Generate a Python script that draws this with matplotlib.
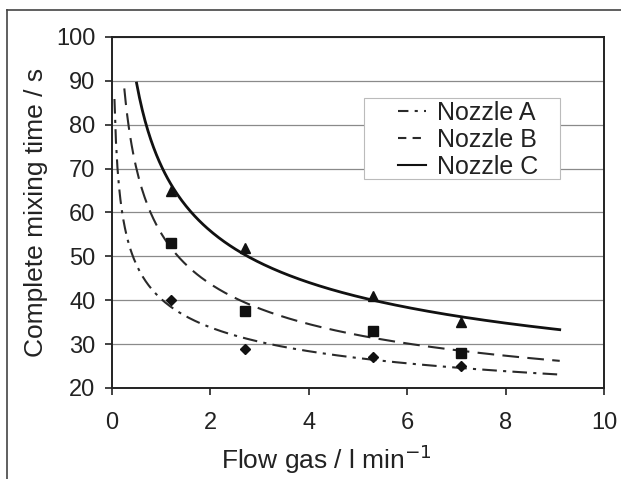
import numpy as np
import matplotlib.pyplot as plt
from matplotlib.lines import Line2D
from matplotlib.patches import Rectangle

plt.rcParams["font.family"] = ["Liberation Sans", "DejaVu Sans"]

# measured points (flow gas l/min, complete mixing time s)
flow = [1.2, 2.7, 5.3, 7.1]
time_a = [40, 29, 27, 25]
time_b = [53, 37.5, 33, 28]
time_c = [65, 52, 41, 35]

# extent of the power-law trendlines as drawn
x_start = {"A": 0.05, "B": 0.25, "C": 0.5}
x_end = 9.1

names = ["Nozzle A", "Nozzle B", "Nozzle C"]
x_ticks = [0, 2, 4, 6, 8, 10]
y_ticks = [20, 30, 40, 50, 60, 70, 80, 90, 100]

W, H = 621, 479


def power_fit(x, y):
    # excel-style power trendline y = a * x^b
    b, ln_a = np.polyfit(np.log(x), np.log(y), 1)
    return np.exp(ln_a), b


fig = plt.figure(figsize=(W / 100, H / 100), dpi=100)
ax = fig.add_axes([112 / W, 1 - 388 / H, 492 / W, 351 / H])

series = [
    ("A", time_a, "D", 5, (0, (7, 3, 1.5, 3)), 1.5, "#2a2a2a"),
    ("B", time_b, "s", 6.5, (0, (8, 4)), 1.5, "#2a2a2a"),
    ("C", time_c, "^", 6.5, "-", 2.0, "#111111"),
]

for key, ys, marker, msize, ls, lw, col in series:
    a, b = power_fit(flow, ys)
    xs = np.linspace(x_start[key], x_end, 300)
    ax.plot(xs, a * xs ** b, linestyle=ls, color=col, lw=lw, zorder=3)
    ax.plot(flow, ys, linestyle="none", marker=marker, ms=msize,
            color="#111111", zorder=4)

ax.set_xlim(0, 10)
ax.set_ylim(20, 100)
ax.set_xticks(x_ticks)
ax.set_yticks(y_ticks)
ax.yaxis.grid(True, color="#8a8a8a", lw=0.9)
ax.set_axisbelow(True)
ax.tick_params(direction="out", length=5, width=1.2, labelsize=17,
               colors="#222222", pad=7)
ax.tick_params(axis="x", pad=12)
for s in ax.spines.values():
    s.set_linewidth(1.4)
    s.set_color("#222222")

ax.set_xlabel("Flow gas / l min$^{-1}$", fontsize=19, color="#222222")
ax.xaxis.set_label_coords(0.435, -0.155)
ax.set_ylabel("Complete mixing time / s", fontsize=19, color="#222222", labelpad=6)

# legend box
box = Rectangle((364 / W, 1 - 179 / H), 196 / W, 81 / H, transform=fig.transFigure,
                facecolor="white", edgecolor="#bbbbbb", lw=0.8, zorder=5)
ax.add_patch(box)

handles = [
    Line2D([], [], color="#2a2a2a", lw=1.5, ls=(0, (5, 3, 1.5, 3))),
    Line2D([], [], color="#2a2a2a", lw=1.5, ls=(0, (4, 3))),
    Line2D([], [], color="#111111", lw=1.5, ls="-"),
]
leg = ax.legend(handles, names, loc="upper left",
                bbox_to_anchor=(398 / W, 1 - 101 / H), bbox_transform=fig.transFigure,
                fontsize=18, handlelength=1.1, handletextpad=0.45,
                labelspacing=0.12, borderpad=0, borderaxespad=0, frameon=False)
leg.set_zorder(6)
for t in leg.get_texts():
    t.set_color("#222222")

# outer frame (top and left edges of the cropped figure border)
fig.add_artist(Line2D([7 / W, 1], [1 - 10 / H, 1 - 10 / H],
                      color="#444444", lw=1.2, transform=fig.transFigure))
fig.add_artist(Line2D([7 / W, 7 / W], [0, 1 - 10 / H],
                      color="#444444", lw=1.2, transform=fig.transFigure))

fig.savefig("out.png", dpi=100, facecolor="white")
